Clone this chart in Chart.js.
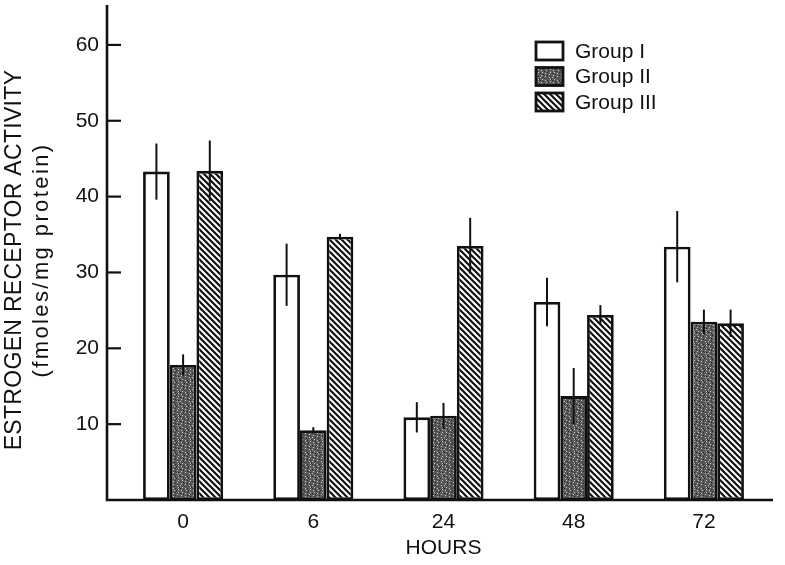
<!DOCTYPE html>
<html>
<head>
<meta charset="utf-8">
<script src="https://cdn.jsdelivr.net/npm/chart.js@4.4.0/dist/chart.umd.min.js"></script>
<style>
  html, body { margin: 0; padding: 0; background: #fff; }
  #wrap { width: 785px; height: 565px; }
</style>
</head>
<body>
<div id="wrap"><canvas id="erChart" width="785" height="565"></canvas></div>
<script>
// Datos
const horas = ['0', '6', '24', '48', '72'];
const grupo1 = [43.3, 29.7, 10.9, 26.1, 33.4];
const grupo2 = [17.8, 9.2, 11.1, 13.7, 23.5];
const grupo3 = [43.4, 34.7, 33.5, 24.4, 23.3];
const err1 = [3.7, 4.1, 2.0, 3.2, 4.7];
const err2 = [1.4, 0.4, 1.7, 3.7, 1.6];
const err3 = [4.0, 0.4, 3.7, 1.3, 1.8];
const yTicks = [10, 20, 30, 40, 50, 60];

const FUENTE = '"Liberation Sans", Arial, sans-serif';

// Patrones de relleno
function patronPuntos() {
    const c = document.createElement('canvas');
    c.width = 12; c.height = 12;
    const g = c.getContext('2d');
    g.fillStyle = '#5a5a5a';
    g.fillRect(0, 0, 12, 12);
    const mapa = [
        '..o....x..o.',
        'x....o......',
        '...x.....o..',
        '.o.....x....',
        '.....o....x.',
        'o..x.....o..',
        '......x.....',
        '..o.......ox',
        'x....o.x....',
        '...x......o.',
        '.o....o.x...',
        '....x.......'
    ];
    for (let y = 0; y < 12; y++) {
        for (let x = 0; x < 12; x++) {
            const ch = mapa[y][x];
            if (ch === 'o') { g.fillStyle = '#c8c8c8'; g.fillRect(x, y, 1, 1); }
            if (ch === 'x') { g.fillStyle = '#262626'; g.fillRect(x, y, 1, 1); }
        }
    }
    return g.createPattern(c, 'repeat');
}

function patronRayas() {
    const s = 6;
    const c = document.createElement('canvas');
    c.width = s; c.height = s;
    const g = c.getContext('2d');
    g.fillStyle = '#fff';
    g.fillRect(0, 0, s, s);
    g.strokeStyle = '#111';
    g.lineWidth = 2.2;
    g.beginPath();
    for (let k = -1; k <= 1; k++) {
        g.moveTo(-1, k * s - 1);
        g.lineTo(s + 1, k * s + s + 1);
    }
    g.stroke();
    return g.createPattern(c, 'repeat');
}

const rellenos = ['#ffffff', patronPuntos(), patronRayas()];
const errores = [err1, err2, err3];

// Ejes dibujados a mano (lomo a la izquierda del area)
const ejesPlugin = {
    id: 'ejes',
    afterDatasetsDraw(chart) {
        const ctx = chart.ctx;
        const a = chart.chartArea;
        const y = chart.scales.y;
        const x0 = a.left - 11;
        const y0 = y.getPixelForValue(0);
        ctx.save();
        ctx.strokeStyle = '#111';
        ctx.lineWidth = 2.6;
        ctx.beginPath();
        ctx.moveTo(x0, a.top - 2);
        ctx.lineTo(x0, y0);
        ctx.lineTo(a.right + 4, y0);
        ctx.stroke();
        ctx.lineWidth = 2.2;
        yTicks.forEach(v => {
            const p = y.getPixelForValue(v);
            ctx.beginPath();
            ctx.moveTo(x0, p);
            ctx.lineTo(x0 + 14, p);
            ctx.stroke();
        });

        // Barras de error
        ctx.lineWidth = 2;
        chart.data.datasets.forEach((ds, i) => {
            const meta = chart.getDatasetMeta(i);
            meta.data.forEach((bar, j) => {
                const v = ds.data[j];
                const e = errores[i][j];
                ctx.beginPath();
                ctx.moveTo(bar.x, y.getPixelForValue(v + e));
                ctx.lineTo(bar.x, y.getPixelForValue(v - e));
                ctx.stroke();
            });
        });

        // Leyenda
        ctx.font = '21px ' + FUENTE;
        ctx.textBaseline = 'middle';
        ctx.textAlign = 'left';
        chart.data.datasets.forEach((ds, i) => {
            const cy = 51 + i * 25.5;
            ctx.fillStyle = ds.backgroundColor;
            ctx.fillRect(536, cy - 9, 27, 18);
            ctx.lineWidth = 2.8;
            ctx.strokeRect(536, cy - 9, 27, 18);
            ctx.fillStyle = '#111';
            ctx.fillText(ds.label, 575, cy + 1);
        });

        // Titulo del eje Y
        ctx.save();
        ctx.translate(21, 260);
        ctx.rotate(-Math.PI / 2);
        ctx.textAlign = 'center';
        ctx.textBaseline = 'alphabetic';
        ctx.fillStyle = '#111';
        ctx.font = '23px ' + FUENTE;
        ctx.letterSpacing = '0.3px';
        ctx.fillText('ESTROGEN RECEPTOR ACTIVITY', 0, 0);
        ctx.font = '22px ' + FUENTE;
        ctx.letterSpacing = '2.4px';
        ctx.fillText('(fmoles/mg protein)', 0, 27);
        ctx.restore();
        ctx.restore();
    }
};

const ctx = document.getElementById('erChart').getContext('2d');
new Chart(ctx, {
    type: 'bar',
    data: {
        labels: horas,
        datasets: [
            { label: 'Group I', data: grupo1, backgroundColor: rellenos[0] },
            { label: 'Group II', data: grupo2, backgroundColor: rellenos[1] },
            { label: 'Group III', data: grupo3, backgroundColor: rellenos[2] }
        ]
    },
    options: {
        responsive: false,
        animation: false,
        devicePixelRatio: 1,
        layout: { padding: { top: 7, right: 16, left: 0, bottom: 0 } },
        datasets: {
            bar: {
                borderColor: '#111',
                borderWidth: 2.8,
                borderSkipped: false,
                barPercentage: 1,
                categoryPercentage: 0.615
            }
        },
        plugins: {
            legend: { display: false },
            tooltip: { enabled: false }
        },
        scales: {
            x: {
                grid: { display: false },
                border: { display: false },
                ticks: {
                    color: '#111',
                    font: { size: 21, family: FUENTE },
                    padding: 2
                },
                title: {
                    display: true,
                    text: 'HOURS',
                    color: '#111',
                    font: { size: 21, family: FUENTE },
                    padding: { top: 2, bottom: 4 }
                },
                afterFit(scale) {
                    scale.height = 65;
                    scale.paddingLeft = 0;
                    scale.paddingRight = 0;
                }
            },
            y: {
                min: 0,
                max: 65,
                grid: { display: false },
                border: { display: false },
                afterBuildTicks(scale) {
                    scale.ticks = yTicks.map(v => ({ value: v }));
                },
                ticks: {
                    color: '#111',
                    font: { size: 21, family: FUENTE },
                    padding: 11
                },
                afterFit(scale) {
                    scale.width = 118;
                    scale.paddingTop = 0;
                    scale.paddingBottom = 0;
                }
            }
        }
    },
    plugins: [ejesPlugin]
});
</script>
</body>
</html>
